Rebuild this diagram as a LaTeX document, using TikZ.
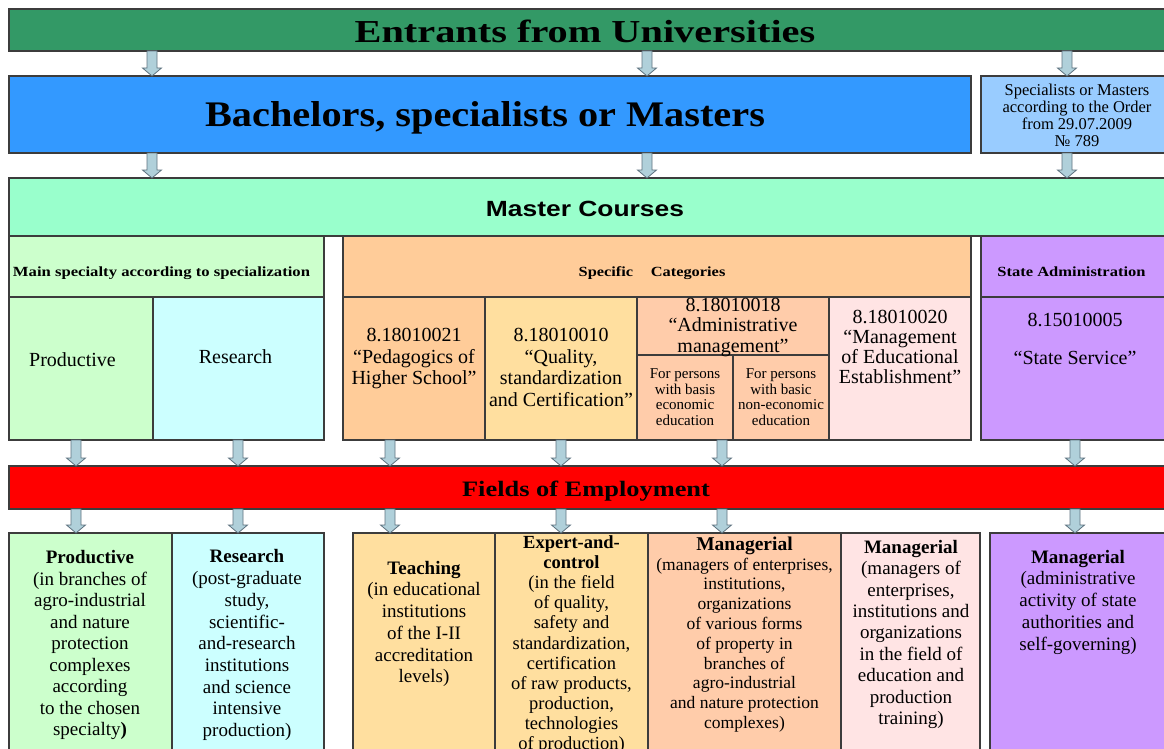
\documentclass[tikz,border=0pt]{standalone}
\usepackage{graphicx}
\usepackage{fontspec}
\setmainfont{Liberation Serif}
\newfontfamily\sansfamilyA{Liberation Sans}
\usetikzlibrary{calc}
\definecolor{edgegray}{HTML}{3C3C3C}
\definecolor{titlegreen}{HTML}{339966}
\definecolor{bachblue}{HTML}{3399FF}
\definecolor{orderblue}{HTML}{99CCFF}
\definecolor{mint}{HTML}{99FFCC}
\definecolor{palegreen}{HTML}{CCFFCC}
\definecolor{palecyan}{HTML}{CCFFFF}
\definecolor{apricot}{HTML}{FFCC99}
\definecolor{lightapricot}{HTML}{FFDF9F}
\definecolor{peach}{HTML}{FFCCAA}
\definecolor{palepink}{HTML}{FFE4E4}
\definecolor{lilac}{HTML}{CC99FF}
\definecolor{arrowfill}{HTML}{B0D0DA}
\definecolor{arrowedge}{HTML}{5F7380}
\newcommand{\flowarrow}[2]{%
  \draw[flowarrowsty] let \p1=(#1), \p2=(#2) in
    (\x1-5pt,\y1) -- (\x1+5pt,\y1) -- (\x1+5pt,\y2+8pt) -- (\x1+9.5pt,\y2+8pt)
    -- (\x1,\y2) -- (\x1-9.5pt,\y2+8pt) -- (\x1-5pt,\y2+8pt) -- cycle;}
\begin{document}
\begin{tikzpicture}[x=1pt,y=-1pt,
  box/.style={draw=edgegray, line width=1.2pt, inner sep=0pt, outer sep=0pt, anchor=north west},
  txt/.style={inner sep=0pt, align=center, anchor=north},
  txtb/.style={inner sep=0pt, align=center, anchor=base},
  flowarrowsty/.style={fill=arrowfill, draw=arrowedge, line width=0.8pt, line join=miter},
  midfont/.style={font=\fontsize{20}{21.7}\selectfont},
  subfont/.style={font=\fontsize{15}{15.6}\selectfont},
  headfont/.style={font=\fontsize{14}{14}\selectfont\bfseries},
]
\useasboundingbox (0,0) rectangle (1164,749);
\fill[white] (0,0) rectangle (1164,749);
\clip (0,0) rectangle (1164,749);

% column coordinates for arrows
\coordinate (ca) at (152,0);
\coordinate (cb) at (647,0);
\coordinate (cc) at (1067,0);
\coordinate (d1) at (76,0);
\coordinate (d2) at (238,0);
\coordinate (d3) at (390,0);
\coordinate (d4) at (561,0);
\coordinate (d5) at (722,0);
\coordinate (d6) at (1075,0);

% top rows
\node[box, fill=titlegreen, minimum width=1163pt, minimum height=42pt] (entr) at (9,9) {};
\node[box, fill=bachblue, minimum width=962pt, minimum height=77pt] (bach) at (9,76) {};
\node[box, fill=orderblue, minimum width=191pt, minimum height=77pt] (order) at (981,76) {};
\node[box, fill=mint, minimum width=1163pt, minimum height=58pt] (master) at (9,178) {};

% master course blocks
\node[box, fill=palegreen, minimum width=315pt, minimum height=61pt] (mainhead) at (9,236) {};
\node[box, fill=palegreen, minimum width=144pt, minimum height=143pt] (prodM) at (9,297) {};
\node[box, fill=palecyan, minimum width=171pt, minimum height=143pt] (resM) at (153,297) {};
\node[box, fill=apricot, minimum width=628pt, minimum height=61pt] (spechead) at (343,236) {};
\node[box, fill=apricot, minimum width=142pt, minimum height=143pt] (ped) at (343,297) {};
\node[box, fill=lightapricot, minimum width=152pt, minimum height=143pt] (qual) at (485,297) {};
\node[box, fill=peach, minimum width=192pt, minimum height=58pt] (admin) at (637,297) {};
\node[box, fill=peach, minimum width=96pt, minimum height=85pt] (subA) at (637,355) {};
\node[box, fill=peach, minimum width=96pt, minimum height=85pt] (subB) at (733,355) {};
\node[box, fill=palepink, minimum width=142pt, minimum height=143pt] (mgmt) at (829,297) {};
\node[box, fill=lilac, minimum width=191pt, minimum height=61pt] (statehead) at (981,236) {};
\node[box, fill=lilac, minimum width=191pt, minimum height=143pt] (stateM) at (981,297) {};

% fields of employment
\node[box, fill=red, minimum width=1163pt, minimum height=43pt] (fields) at (9,466) {};
\node[box, fill=palegreen, minimum width=163pt, minimum height=227pt] (prodE) at (9,533) {};
\node[box, fill=palecyan, minimum width=152pt, minimum height=227pt] (resE) at (172,533) {};
\node[box, fill=lightapricot, minimum width=142pt, minimum height=227pt] (teach) at (353,533) {};
\node[box, fill=lightapricot, minimum width=153pt, minimum height=227pt] (expert) at (495,533) {};
\node[box, fill=peach, minimum width=193pt, minimum height=227pt] (man1) at (648,533) {};
\node[box, fill=palepink, minimum width=139pt, minimum height=227pt] (man2) at (841,533) {};
\node[box, fill=lilac, minimum width=182pt, minimum height=227pt] (man3) at (990,533) {};

% titles
\node[txtb, font=\fontsize{32}{32}\selectfont\bfseries] (entrT) at (585,43) {\scalebox{1.26}[1]{Entrants from Universities}};
\node[txtb, font=\fontsize{36}{36}\selectfont\bfseries] (bachT) at (485,127) {\scalebox{1.12}[1]{Bachelors, specialists or Masters}};
\node[txt, font=\fontsize{16.5}{17.2}\selectfont] (orderT) at (1077,83.5) {Specialists or Masters\\according to the Order\\from 29.07.2009\\№ 789};
\node[txtb, font=\fontsize{22}{22}\selectfont\sansfamilyA\bfseries] (masterT) at (585,216) {\scalebox{1.2}[1]{Master Courses}};
\node[txtb, headfont] (mainheadT) at (161.5,276) {\scalebox{1.19}[1]{Main specialty according to specialization}};
\node[txtb, headfont] (specheadT) at (652,276) {\scalebox{1.17}[1]{Specific\hspace{15pt}Categories}};
\node[txtb, headfont] (stateheadT) at (1071.5,276) {\scalebox{1.18}[1]{State Administration}};
\node[txtb, font=\fontsize{22}{22}\selectfont\bfseries] (fieldsT) at (586,496) {\scalebox{1.2}[1]{Fields of Employment}};

% master course texts
\node[txtb, midfont] (prodMT) at (72.5,366) {Productive};
\node[txtb, midfont] (resMT) at (235.5,363) {Research};
\node[txt, midfont] (pedT) at (414,328) {8.18010021\\“Pedagogics of\\Higher School”};
\node[txt, midfont] (qualT) at (561,328) {8.18010010\\“Quality,\\standardization\\and Certification”};
\node[txt, font=\fontsize{20}{20.6}\selectfont] (adminT) at (733,297.5) {8.18010018\\“Administrative\\management”};
\node[txt, subfont] (subAT) at (685,368.6) {For persons\\with basis\\economic\\education};
\node[txt, subfont] (subBT) at (781,368.6) {For persons\\with basic\\non-economic\\education};
\node[txt, font=\fontsize{20}{20}\selectfont] (mgmtT) at (900,309.7) {8.18010020\\“Management\\of Educational\\Establishment”};
\node[txt, font=\fontsize{20}{38}\selectfont] (stateMT) at (1075,313.2) {8.15010005\\“State Service”};

% employment texts
\node[txt, font=\fontsize{19}{21.5}\selectfont] (prodET) at (90,550.2) {\textbf{Productive}\\(in branches of\\agro-industrial\\and nature\\protection\\complexes\\according\\to the chosen\\specialty\textbf{)}};
\node[txt, font=\fontsize{19}{21.7}\selectfont] (resET) at (247,549.6) {\textbf{Research}\\(post-graduate\\study,\\scientific-\\and-research\\institutions\\and science\\intensive\\production)};
\node[txt, font=\fontsize{19}{21.7}\selectfont] (teachET) at (424,560.9) {\textbf{Teaching}\\(in educational\\institutions\\of the I-II\\accreditation\\levels)};
\node[txt, font=\fontsize{18.5}{20.1}\selectfont] (expertET) at (571.5,535.5) {\textbf{Expert-and-}\\\textbf{control}\\(in the field\\of quality,\\safety and\\standardization,\\certification\\of raw products,\\production,\\technologies\\of production)};
\node[txt, font=\fontsize{17.5}{19.8}\selectfont] (man1ET) at (744.5,536.6) {{\fontsize{19.5}{19.8}\selectfont\bfseries Managerial}\\(managers of enterprises,\\institutions,\\organizations\\of various forms\\of property in\\branches of\\agro-industrial\\and nature protection\\complexes)};
\node[txt, font=\fontsize{19}{21.4}\selectfont] (man2ET) at (911,539.9) {\textbf{Managerial}\\(managers of\\enterprises,\\institutions and\\organizations\\in the field of\\education and\\production\\training)};
\node[txt, font=\fontsize{19}{21.7}\selectfont] (man3ET) at (1078,549.9) {\textbf{Managerial}\\(administrative\\activity of state\\authorities and\\self-governing)};

% arrows
\flowarrow{entr.south -| ca}{bach.north -| ca}
\flowarrow{entr.south -| cb}{bach.north -| cb}
\flowarrow{entr.south -| cc}{order.north -| cc}
\flowarrow{bach.south -| ca}{master.north -| ca}
\flowarrow{bach.south -| cb}{master.north -| cb}
\flowarrow{order.south -| cc}{master.north -| cc}
\flowarrow{prodM.south -| d1}{fields.north -| d1}
\flowarrow{resM.south -| d2}{fields.north -| d2}
\flowarrow{ped.south -| d3}{fields.north -| d3}
\flowarrow{qual.south -| d4}{fields.north -| d4}
\flowarrow{subA.south -| d5}{fields.north -| d5}
\flowarrow{stateM.south -| d6}{fields.north -| d6}
\flowarrow{fields.south -| d1}{prodE.north -| d1}
\flowarrow{fields.south -| d2}{resE.north -| d2}
\flowarrow{fields.south -| d3}{teach.north -| d3}
\flowarrow{fields.south -| d4}{expert.north -| d4}
\flowarrow{fields.south -| d5}{man1.north -| d5}
\flowarrow{fields.south -| d6}{man3.north -| d6}
\end{tikzpicture}
\end{document}
